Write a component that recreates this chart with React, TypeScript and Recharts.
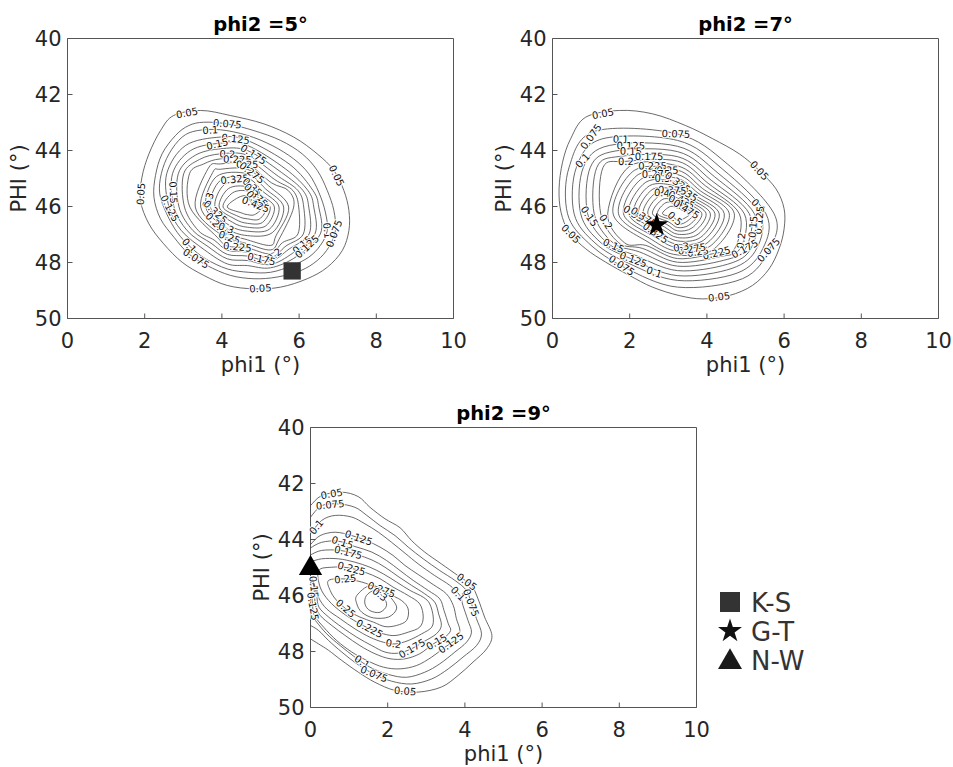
import React from 'react';
import { ScatterChart, Scatter, XAxis, YAxis, Symbols } from 'recharts';

type P = [number, number];
type Contour = { level: number; pts: P[]; open?: boolean };
type Lbl = [number, number, string];

const FONT = '"DejaVu Sans", Verdana, sans-serif';
const xTicks = [0, 2, 4, 6, 8, 10];
const yTicks = [40, 42, 44, 46, 48, 50];

// ---------------- phi2 = 5° ----------------
const levels5 = [0.05, 0.075, 0.1, 0.125, 0.15, 0.175, 0.2, 0.225, 0.25, 0.275, 0.3, 0.325, 0.35, 0.375, 0.4, 0.425];
// outer three levels
const traced5: P[][] = [
  [[2.75, 42.75], [3.45, 42.57], [4.22, 42.75], [5.09, 43.05], [5.86, 43.52], [6.47, 44.12], [6.9, 44.71], [7.16, 45.43], [7.29, 46.14], [7.29, 46.86], [7.12, 47.57], [6.73, 48.17], [6.21, 48.58], [5.52, 48.88], [4.83, 48.94], [4.14, 48.82], [3.53, 48.46], [2.97, 47.99], [2.49, 47.33], [2.11, 46.62], [1.89, 45.79], [1.93, 44.95], [2.11, 44.12], [2.41, 43.29]],
  [[3.53, 42.99], [4.14, 43.05], [4.83, 43.29], [5.52, 43.64], [6.08, 44.12], [6.47, 44.71], [6.73, 45.43], [6.9, 46.14], [6.94, 46.86], [6.77, 47.45], [6.47, 47.93], [6.04, 48.29], [5.43, 48.52], [4.83, 48.58], [4.22, 48.46], [3.62, 48.11], [3.14, 47.69], [2.76, 47.1], [2.41, 46.44], [2.24, 45.67], [2.28, 44.89], [2.45, 44.12], [2.8, 43.46], [3.14, 43.11]],
  [[3.36, 43.29], [3.96, 43.26], [4.66, 43.46], [5.3, 43.82], [5.86, 44.3], [6.25, 44.83], [6.51, 45.49], [6.68, 46.2], [6.73, 46.86], [6.55, 47.39], [6.25, 47.81], [5.82, 48.11], [5.26, 48.35], [4.7, 48.35], [4.14, 48.23], [3.58, 47.87], [3.19, 47.45], [2.84, 46.92], [2.57, 46.26], [2.39, 45.55], [2.43, 44.83], [2.63, 44.12], [2.97, 43.52]],
];
// inner levels (0.125 … 0.425): crossings read along rays from the peak
const peak5: P = [4.66, 46.02];
const east5 = [6.51, 6.38, 6.25, 6.12, 5.99, 5.86, 5.73, 5.6, 5.48, 5.36, 5.25, 5.15, 5.05];
const ese5 = [6.55, 6.41, 6.26, 6.11, 5.97]; // at y = 46.98
const se5: P[] = [[5.93, 47.79], [5.84, 47.66], [5.74, 47.52], [5.66, 47.41], [5.57, 47.29], [5.48, 47.17], [5.4, 47.05], [5.31, 46.93], [5.23, 46.81], [5.14, 46.69], [5.05, 46.57], [4.97, 46.45], [4.85, 46.29]];
const sse5 = [48.19, 48.07, 47.95, 47.83, 47.69, 47.55, 47.39]; // at x = 5.26
const south5 = [48.11, 47.93, 47.77, 47.63, 47.48, 47.33, 47.19, 47.04, 46.88, 46.74, 46.6, 46.44, 46.29];
const ssw5 = [48.05, 47.87, 47.71, 47.56, 47.41]; // at x = 4.14
const sw5: P[] = [[3.55, 47.55], [3.64, 47.43], [3.72, 47.31], [3.8, 47.2], [3.88, 47.1], [3.96, 46.99], [4.03, 46.88], [4.11, 46.77], [4.19, 46.67], [4.27, 46.56], [4.34, 46.45], [4.42, 46.35], [4.51, 46.23]];
const wsw5 = [2.95, 3.1, 3.25, 3.39]; // at y = 46.86
const west5 = [2.63, 2.76, 2.89, 3.03, 3.17, 3.31, 3.45, 3.58, 3.7, 3.82, 3.93, 4.03, 4.14];
const wnw5 = [2.57, 2.72, 2.87, 3.01, 3.16]; // at y = 44.83
const nw5: P[] = [[3.06, 43.82], [3.19, 44.0], [3.31, 44.17], [3.42, 44.32], [3.53, 44.48], [3.65, 44.63], [3.76, 44.79], [3.86, 44.93], [3.96, 45.07], [4.07, 45.21], [4.17, 45.36], [4.28, 45.51], [4.41, 45.69]];
const nnw5 = [43.52, 43.74, 43.94, 44.12, 44.3, 44.48, 44.67]; // at x = 3.96
const north5 = [43.64, 43.82, 44.0, 44.17, 44.33, 44.5, 44.67, 44.83, 44.99, 45.14, 45.3, 45.45, 45.62];
const ne5: P[] = [[5.76, 44.5], [5.65, 44.66], [5.55, 44.79], [5.46, 44.92], [5.37, 45.04], [5.29, 45.16], [5.21, 45.26], [5.13, 45.37], [5.06, 45.46], [4.99, 45.56], [4.92, 45.66], [4.85, 45.75], [4.77, 45.87]];
const ene5 = [6.36, 6.23, 6.1, 5.97, 5.84, 5.72]; // at y = 45.43
const labels5: Lbl[] = [
  [3.1, 42.69, '0.05'], [4.14, 43.05, '0.075'], [3.7, 43.23, '0.1'], [4.35, 43.64, '0.125'], [3.88, 43.76, '0.15'],
  [4.83, 44.12, '0.175'], [4.14, 44.12, '0.2'], [4.4, 44.3, '0.225'], [4.66, 44.42, '0.25'], [4.31, 44.69, '0.325'],
  [4.83, 44.71, '0.275'], [4.78, 45.31, '0.35'], [4.87, 45.61, '0.375'], [4.74, 45.79, '0.4'], [4.83, 46.08, '0.425'],
  [1.9, 45.55, '0.05'], [6.9, 44.95, '0.05'], [6.73, 46.86, '0.1'], [6.93, 46.98, '0.075'], [2.72, 45.5, '0.15'],
  [2.6, 46.1, '0.125'], [3.66, 45.79, '0.3'], [3.76, 46.3, '0.325'], [3.9, 46.62, '0.275'], [3.96, 47.1, '0.3'],
  [4.14, 47.33, '0.25'], [4.4, 47.45, '0.225'], [5.43, 47.87, '0.2'], [5.0, 48.05, '0.175'], [6.17, 47.51, '0.15'],
  [6.3, 47.57, '0.125'], [3.06, 47.51, '0.1'], [3.27, 47.99, '0.075'], [5.0, 48.98, '0.05'],
];
const marker5 = { x: 5.82, y: 48.3 };

// ---------------- phi2 = 7° ----------------
const levels7 = [0.05, 0.075, 0.1, 0.125, 0.15, 0.175, 0.2, 0.225, 0.25, 0.275, 0.3, 0.325, 0.35, 0.375, 0.4, 0.425, 0.45, 0.475, 0.5];
const traced7: P[] = [[0.86, 42.81], [1.73, 42.57], [2.59, 42.69], [3.45, 43.11], [4.15, 43.58], [4.84, 44.12], [5.35, 44.71], [5.79, 45.37], [6.0, 46.08], [6.0, 46.8], [5.87, 47.51], [5.61, 48.23], [5.18, 48.82], [4.58, 49.18], [3.89, 49.3], [3.28, 49.18], [2.59, 48.88], [1.99, 48.46], [1.38, 47.99], [0.86, 47.51], [0.43, 46.92], [0.22, 46.2], [0.17, 45.37], [0.26, 44.42], [0.47, 43.58]];
const peak7: P = [3.24, 46.26];
const east7 = [5.74, 5.53, 5.37, 5.23, 5.1, 4.97, 4.84, 4.71, 4.58, 4.45, 4.32, 4.21, 4.09, 3.98, 3.87, 3.77, 3.66, 3.56];
const ese7 = [5.63, 5.45, 5.29, 5.14, 5.0, 4.86, 4.72]; // at y = 47.5
const se7: P[] = [[4.92, 48.58], [4.78, 48.38], [4.65, 48.21], [4.54, 48.06], [4.44, 47.92], [4.34, 47.79], [4.25, 47.66], [4.16, 47.54], [4.08, 47.42], [4.0, 47.31], [3.92, 47.2], [3.84, 47.1], [3.77, 46.99], [3.69, 46.88], [3.61, 46.77], [3.53, 46.67], [3.45, 46.56], [3.38, 46.45]];
const south7 = [48.88, 48.64, 48.47, 48.29, 48.13, 47.99, 47.86, 47.73, 47.6, 47.47, 47.35, 47.23, 47.11, 46.99, 46.87, 46.75, 46.63, 46.51];
const sw7: P[] = [[1.86, 48.17], [1.96, 48.02], [2.06, 47.88], [2.16, 47.75], [2.25, 47.62], [2.34, 47.5], [2.42, 47.39], [2.5, 47.29], [2.57, 47.18], [2.64, 47.08], [2.71, 46.99], [2.78, 46.89], [2.84, 46.81], [2.9, 46.73], [2.96, 46.64], [3.02, 46.56], [3.08, 46.48], [3.14, 46.39]];
const wsw7 = [0.93, 1.1, 1.26, 1.42, 1.57, 1.72, 1.87]; // at y = 47.3
const west7 = [0.39, 0.56, 0.73, 0.91, 1.08, 1.25, 1.43, 1.57, 1.71, 1.84, 1.97, 2.1, 2.23, 2.35, 2.47, 2.59, 2.72, 2.85];
const wnw7 = [0.43, 0.62, 0.8, 0.98, 1.15, 1.31]; // at y = 44.6
const nw7: P[] = [[1.1, 43.31], [1.3, 43.58], [1.47, 43.82], [1.62, 44.02], [1.75, 44.21], [1.88, 44.39], [2.0, 44.56], [2.12, 44.71], [2.22, 44.86], [2.32, 45.0], [2.42, 45.13], [2.51, 45.26], [2.6, 45.38], [2.69, 45.5], [2.77, 45.62], [2.86, 45.74], [2.94, 45.86], [3.05, 46.0]];
const north7 = [43.41, 43.64, 43.85, 44.04, 44.22, 44.38, 44.55, 44.7, 44.86, 45.0, 45.14, 45.29, 45.43, 45.56, 45.69, 45.82, 45.94, 46.06];
const ne7: P[] = [[4.53, 44.48], [4.4, 44.66], [4.29, 44.81], [4.2, 44.94], [4.11, 45.06], [4.03, 45.17], [3.96, 45.26], [3.89, 45.36], [3.83, 45.44], [3.77, 45.52], [3.71, 45.61], [3.66, 45.68], [3.61, 45.75], [3.56, 45.82], [3.51, 45.89], [3.45, 45.96], [3.4, 46.04], [3.34, 46.12]];
const labels7: Lbl[] = [
  [1.3, 42.65, '0.05'], [0.95, 43.46, '0.075'], [0.56, 44.08, '0.1'], [3.2, 43.44, '0.075'], [1.77, 43.46, '0.1'],
  [2.03, 43.64, '0.125'], [2.03, 43.88, '0.15'], [2.5, 44.06, '0.175'], [1.9, 44.24, '0.2'], [2.59, 44.42, '0.225'],
  [2.98, 44.54, '0.25'], [2.68, 44.72, '0.275'], [2.85, 44.89, '0.3'], [3.28, 44.89, '0.325'], [3.63, 45.25, '0.35'],
  [3.11, 45.19, '0.375'], [2.85, 45.25, '0.4'], [3.45, 45.49, '0.425'], [3.32, 45.73, '0.45'], [3.5, 46.02, '0.475'],
  [3.24, 46.32, '0.5'], [5.27, 44.83, '0.05'], [5.31, 46.02, '0.1'], [5.44, 46.5, '0.125'], [5.27, 46.74, '0.15'],
  [5.18, 47.27, '0.2'], [5.05, 47.69, '0.175'], [5.66, 47.63, '0.075'], [4.32, 48.11, '0.225'], [3.8, 47.93, '0.25'],
  [3.63, 47.69, '0.275'], [3.37, 47.81, '0.3'], [2.59, 48.52, '0.1'], [2.07, 47.99, '0.125'], [1.51, 47.63, '0.15'],
  [1.73, 48.23, '0.075'], [4.32, 49.24, '0.05'], [0.43, 47.04, '0.05'], [1.12, 46.2, '0.15'], [1.3, 46.62, '0.2'],
  [1.99, 46.32, '0.35'], [2.25, 46.62, '0.375'], [2.5, 47.27, '0.325'],
];
const marker7 = { x: 2.7, y: 46.66 };

// ---------------- phi2 = 9° ----------------
const contours9: Contour[] = [
  { level: 0.05, open: true, pts: [[0, 42.79], [0.29, 42.43], [0.81, 42.31], [1.24, 42.47], [1.54, 42.85], [1.93, 43.26], [2.32, 43.58], [2.62, 44.04], [2.96, 44.45], [3.39, 44.87], [3.82, 45.29], [4.17, 45.64], [4.34, 46.12], [4.51, 46.77], [4.7, 47.43], [4.56, 47.91], [4.21, 48.38], [3.82, 48.86], [3.39, 49.27], [2.79, 49.45], [2.19, 49.39], [1.67, 49.1], [1.24, 48.74], [0.81, 48.32], [0.47, 47.96], [0.21, 47.73], [0, 47.55]] },
  { level: 0.075, open: true, pts: [[0, 43.2], [0.29, 42.79], [0.72, 42.73], [1.15, 42.85], [1.46, 43.14], [1.8, 43.5], [2.19, 43.86], [2.53, 44.27], [2.92, 44.69], [3.35, 45.11], [3.74, 45.46], [4.04, 45.82], [4.17, 46.3], [4.3, 46.83], [4.43, 47.37], [4.3, 47.79], [3.95, 48.2], [3.57, 48.62], [3.14, 48.98], [2.62, 49.16], [2.1, 49.06], [1.63, 48.8], [1.2, 48.44], [0.81, 48.02], [0.47, 47.61], [0.21, 47.25], [0, 47.07]] },
  { level: 0.1, open: true, pts: [[0, 43.8], [0.29, 43.32], [0.64, 43.14], [1.07, 43.2], [1.41, 43.44], [1.76, 43.74], [2.1, 44.1], [2.45, 44.49], [2.79, 44.87], [3.22, 45.29], [3.61, 45.64], [3.87, 46.0], [3.95, 46.36], [4.08, 46.89], [4.17, 47.31], [4.04, 47.67], [3.74, 48.02], [3.35, 48.44], [2.96, 48.74], [2.49, 48.92], [2.02, 48.82], [1.54, 48.56], [1.15, 48.2], [0.77, 47.79], [0.42, 47.37], [0.16, 46.95], [0, 46.66]] },
  { level: 0.125, open: true, pts: [[0, 44.18], [0.25, 43.86], [0.64, 43.74], [1.07, 43.86], [1.45, 44.04], [1.8, 44.27], [2.14, 44.57], [2.45, 44.93], [2.79, 45.25], [3.18, 45.61], [3.52, 45.94], [3.7, 46.36], [3.78, 46.83], [3.87, 47.25], [3.78, 47.55], [3.48, 47.85], [3.14, 48.2], [2.75, 48.5], [2.32, 48.62], [1.89, 48.56], [1.46, 48.32], [1.07, 48.02], [0.68, 47.61], [0.34, 47.13], [0.1, 46.71], [0.05, 46.3], [0.03, 45.8], [0, 45.45]] },
  { level: 0.15, open: true, pts: [[0, 44.3], [0.29, 44.1], [0.72, 44.06], [1.15, 44.25], [1.59, 44.45], [1.97, 44.75], [2.32, 45.11], [2.66, 45.46], [3.05, 45.82], [3.35, 46.12], [3.46, 46.54], [3.57, 47.01], [3.63, 47.25], [3.48, 47.49], [3.18, 47.73], [2.83, 48.08], [2.45, 48.26], [2.06, 48.26], [1.67, 48.08], [1.28, 47.79], [0.9, 47.43], [0.55, 47.07], [0.25, 46.71], [0.13, 46.35], [0.1, 45.9], [0.07, 45.5], [0, 45.3]] },
  { level: 0.175, open: true, pts: [[0, 44.55], [0.29, 44.39], [0.77, 44.39], [1.2, 44.54], [1.59, 44.73], [1.93, 44.99], [2.27, 45.32], [2.62, 45.64], [2.96, 45.94], [3.22, 46.24], [3.32, 46.66], [3.39, 47.07], [3.26, 47.37], [2.96, 47.63], [2.62, 47.9], [2.27, 48.06], [1.93, 48.02], [1.59, 47.79], [1.2, 47.49], [0.81, 47.13], [0.47, 46.77], [0.22, 46.42], [0.16, 46.0], [0.1, 45.6], [0, 45.4]] },
  { level: 0.2, open: true, pts: [[0, 44.8], [0.29, 44.69], [0.72, 44.69], [1.15, 44.81], [1.54, 44.99], [1.89, 45.23], [2.23, 45.52], [2.58, 45.82], [2.92, 46.06], [3.09, 46.3], [3.18, 46.77], [3.14, 47.13], [2.88, 47.37], [2.53, 47.61], [2.19, 47.73], [1.89, 47.67], [1.54, 47.49], [1.15, 47.19], [0.77, 46.83], [0.42, 46.48], [0.22, 46.1], [0.15, 45.75], [0, 45.5]] },
  { level: 0.225, pts: [[0.21, 45.11], [0.55, 44.99], [0.98, 45.01], [1.41, 45.17], [1.8, 45.4], [2.14, 45.7], [2.53, 46.0], [2.83, 46.3], [2.92, 46.77], [2.83, 47.13], [2.53, 47.31], [2.19, 47.43], [1.89, 47.37], [1.54, 47.19], [1.2, 46.95], [0.81, 46.6], [0.47, 46.18], [0.25, 45.7]] },
  { level: 0.25, pts: [[0.47, 45.46], [0.9, 45.41], [1.33, 45.52], [1.67, 45.7], [2.02, 45.94], [2.36, 46.18], [2.53, 46.48], [2.49, 46.89], [2.23, 47.07], [1.93, 47.11], [1.63, 46.95], [1.28, 46.77], [0.98, 46.54], [0.68, 46.18], [0.51, 45.82]] },
  { level: 0.275, pts: [[1.2, 46.0], [1.54, 45.64], [1.89, 45.82], [2.14, 46.18], [2.23, 46.48], [2.02, 46.77], [1.63, 46.8], [1.33, 46.6], [1.2, 46.3]] },
  { level: 0.3, pts: [[1.45, 46.0], [1.67, 45.82], [1.89, 46.06], [1.97, 46.36], [1.8, 46.6], [1.54, 46.54], [1.41, 46.3]] },
];
const labels9: Lbl[] = [
  [0.55, 42.39, '0.05'], [0.51, 42.76, '0.075'], [0.16, 43.56, '0.1'], [1.24, 43.98, '0.125'], [0.81, 44.18, '0.15'],
  [0.98, 44.45, '0.175'], [1.07, 45.01, '0.225'], [0.9, 45.41, '0.25'], [1.8, 45.94, '0.275'], [1.67, 46.18, '0.3'],
  [0.94, 46.42, '0.25'], [1.5, 47.27, '0.225'], [2.14, 47.82, '0.2'], [2.7, 48.06, '0.175'], [3.35, 47.85, '0.15'],
  [3.65, 47.7, '0.125'], [1.33, 48.38, '0.1'], [1.63, 48.86, '0.075'], [2.45, 49.45, '0.05'], [3.95, 45.7, '0.05'],
  [3.82, 45.94, '0.1'], [4.08, 46.3, '0.075'], [0.08, 45.7, '0.15'], [0.06, 46.39, '0.125'],
];
const marker9 = { x: 0, y: 45.03 };

// ---------- building the contour tables ----------
const atY = (xs: number[], y: number): P[] => xs.map((x) => [x, y] as P);
const atX = (ys: number[], x: number): P[] => ys.map((y) => [x, y] as P);
function rings(levels: number[], rays: P[][]): Contour[] {
  return levels.map((level, i) => ({ level, pts: rays.map((r) => r[i]).filter((p) => !!p) }));
}

const contours5: Contour[] = [
  ...traced5.map((pts, i) => ({ level: levels5[i], pts })),
  ...rings(levels5.slice(3), [
    atY(east5, peak5[1]), atY(ese5, 46.98), se5, atX(sse5, 5.26), atX(south5, peak5[0]), atX(ssw5, 4.14),
    sw5, atY(wsw5, 46.86), atY(west5, peak5[1]), atY(wnw5, 44.83), nw5, atX(nnw5, 3.96), atX(north5, peak5[0]),
    ne5, atY(ene5, 45.43),
  ]),
];

const contours7: Contour[] = [
  { level: levels7[0], pts: traced7 },
  ...rings(levels7.slice(1), [
    atY(east7, peak7[1]), atY(ese7, 47.5), se7, atX(south7, peak7[0]), sw7, atY(wsw7, 47.3),
    atY(west7, peak7[1]), atY(wnw7, 44.6), nw7, atX(north7, peak7[0]), ne7,
  ]),
];

// pixel scale of the plot (386 x 280 px for 10 x 10 units), used for label angles
const SX = 38.6;
const SY = 28;

function placeLabels(labels: Lbl[], contours: Contour[]) {
  return labels.map(([lx, ly, t]) => {
    const lv = parseFloat(t);
    const c = contours.find((k) => Math.abs(k.level - lv) < 1e-6);
    if (!c) return { x: lx, y: ly, t, a: 0 };
    const n = c.pts.length;
    const segs = c.open ? n - 1 : n;
    let best = { d: Infinity, x: lx, y: ly, a: 0 };
    for (let i = 0; i < segs; i++) {
      const [x1, y1] = c.pts[i];
      const [x2, y2] = c.pts[(i + 1) % n];
      const ax = (x2 - x1) * SX, ay = (y2 - y1) * SY;
      const bx = (lx - x1) * SX, by = (ly - y1) * SY;
      const L = ax * ax + ay * ay;
      let u = L > 0 ? (ax * bx + ay * by) / L : 0;
      u = Math.max(0, Math.min(1, u));
      const dx = bx - u * ax, dy = by - u * ay;
      const d = dx * dx + dy * dy;
      if (d < best.d) {
        let a = (Math.atan2(ay, ax) * 180) / Math.PI;
        if (a > 90) a -= 180;
        if (a < -90) a += 180;
        best = { d, x: x1 + u * (x2 - x1), y: y1 + u * (y2 - y1), a };
      }
    }
    return { x: best.x, y: best.y, t, a: best.a };
  });
}

function smoothPath(pts: { x: number; y: number }[], closed: boolean) {
  const n = pts.length;
  if (n < 2) return '';
  const get = (i: number) => (closed ? pts[(i + n) % n] : pts[Math.max(0, Math.min(n - 1, i))]);
  let d = `M${pts[0].x},${pts[0].y}`;
  const segs = closed ? n : n - 1;
  for (let i = 0; i < segs; i++) {
    const p0 = get(i - 1), p1 = get(i), p2 = get(i + 1), p3 = get(i + 2);
    const c1x = p1.x + (p2.x - p0.x) / 6, c1y = p1.y + (p2.y - p0.y) / 6;
    const c2x = p2.x - (p3.x - p1.x) / 6, c2y = p2.y - (p3.y - p1.y) / 6;
    d += `C${c1x},${c1y} ${c2x},${c2y} ${p2.x},${p2.y}`;
  }
  return closed ? d + 'Z' : d;
}

const NoDot = () => <g />;

const LabelText = (p: any) => {
  const { cx, cy, payload } = p;
  return (
    <text
      x={cx}
      y={cy}
      transform={`rotate(${payload.a} ${cx} ${cy})`}
      textAnchor="middle"
      dominantBaseline="central"
      fontFamily={FONT}
      fontSize={10}
      fill="#111"
      stroke="#fff"
      strokeWidth={2}
      paintOrder="stroke"
      strokeLinejoin="round"
    >
      {payload.t}
    </text>
  );
};

type MarkerType = 'square' | 'star' | 'triangle';

function Panel(props: {
  left: number;
  top: number;
  contours: Contour[];
  labels: Lbl[];
  marker: { x: number; y: number };
  markerType: MarkerType;
  markerSize: number;
  markerFill: string;
}) {
  const { left, top, contours, labels, marker, markerType, markerSize, markerFill } = props;
  const W = 480;
  const H = 390;
  // every axis takes 1px, the margins make the plot area 386 x 280 at (67.5, 38.5)
  const margin = { top: 37.5, left: 66.5, right: W - 67.5 - 386 - 1, bottom: H - 38.5 - 280 - 1 };
  const axisStroke = '#555';
  const tickFont = { fill: '#262626', fontSize: 21, fontFamily: FONT };
  const placed = placeLabels(labels, contours);
  return (
    <div style={{ position: 'absolute', left: left - 67.5, top: top - 38.5 }}>
      <ScatterChart width={W} height={H} margin={margin}>
        <XAxis xAxisId="b" type="number" dataKey="x" domain={[0, 10]} ticks={xTicks} interval={0} height={1}
          tickSize={-5} tickMargin={20} stroke={axisStroke} tick={tickFont} />
        <XAxis xAxisId="t" orientation="top" type="number" dataKey="x" domain={[0, 10]} ticks={xTicks} interval={0}
          height={1} tickSize={-5} stroke={axisStroke} tick={false} />
        <YAxis yAxisId="l" type="number" dataKey="y" domain={[40, 50]} reversed ticks={yTicks} interval={0} width={1}
          tickSize={-5} tickMargin={11} stroke={axisStroke} tick={tickFont} />
        <YAxis yAxisId="r" orientation="right" type="number" dataKey="y" domain={[40, 50]} reversed ticks={yTicks}
          interval={0} width={1} tickSize={-5} stroke={axisStroke} tick={false} />
        {contours.map((c, i) => (
          <Scatter
            key={`c${i}`}
            xAxisId="b"
            yAxisId="l"
            data={c.pts.map(([x, y]) => ({ x, y }))}
            isAnimationActive={false}
            lineType="joint"
            line={(lp: any) => (
              <path d={smoothPath(lp.points, !c.open)} fill="none" stroke="#444" strokeWidth={0.8} />
            )}
            shape={NoDot}
          />
        ))}
        <Scatter xAxisId="b" yAxisId="l" data={placed} isAnimationActive={false} shape={LabelText} />
        <Scatter
          xAxisId="b"
          yAxisId="l"
          data={[marker]}
          isAnimationActive={false}
          shape={(p: any) => <Symbols cx={p.cx} cy={p.cy} type={markerType} size={markerSize} fill={markerFill} />}
        />
      </ScatterChart>
    </div>
  );
}

const panels = [
  { title: 'phi2 =5°', left: 67.5, top: 38.5 },
  { title: 'phi2 =7°', left: 552.5, top: 38.5 },
  { title: 'phi2 =9°', left: 310.5, top: 427.5 },
];

const legendItems: { type: MarkerType; text: string; cy: number; size: number; fill: string; base: number }[] = [
  { type: 'square', text: 'K-S', cy: 602, size: 400, fill: '#333', base: 612 },
  { type: 'star', text: 'G-T', cy: 631, size: 178, fill: '#111', base: 641 },
  { type: 'triangle', text: 'N-W', cy: 662, size: 249, fill: '#1a1a1a', base: 670 },
];

export default function App() {
  return (
    <div style={{ position: 'absolute', left: 0, top: 0, width: 953, height: 767, overflow: 'hidden', background: '#fff' }}>
      <Panel left={67.5} top={38.5} contours={contours5} labels={labels5} marker={marker5}
        markerType="square" markerSize={300} markerFill="#333" />
      <Panel left={552.5} top={38.5} contours={contours7} labels={labels7} marker={marker7}
        markerType="star" markerSize={170} markerFill="#000" />
      <Panel left={310.5} top={427.5} contours={contours9} labels={labels9} marker={marker9}
        markerType="triangle" markerSize={235} markerFill="#000" />
      <svg width={953} height={767} style={{ position: 'absolute', left: 0, top: 0, pointerEvents: 'none' }}>
        {panels.map((p) => (
          <g key={p.title} fontFamily={FONT}>
            <text x={p.left + 193} y={p.top - 7.5} textAnchor="middle" fontWeight="bold" fontSize={19.5} fill="#000">
              {p.title}
            </text>
            <text x={p.left + 193} y={p.top + 280 + 53.5} textAnchor="middle" fontSize={21} fill="#262626">
              phi1 (°)
            </text>
            <text transform={`translate(${p.left - 42},${p.top + 140}) rotate(-90)`} textAnchor="middle" fontSize={21}
              fill="#262626">
              PHI (°)
            </text>
          </g>
        ))}
        {legendItems.map((it) => (
          <g key={it.text}>
            <Symbols cx={730} cy={it.cy} type={it.type} size={it.size} fill={it.fill} />
            <text x={751} y={it.base} fontFamily={FONT} fontSize={26} fill="#333">
              {it.text}
            </text>
          </g>
        ))}
      </svg>
    </div>
  );
}
